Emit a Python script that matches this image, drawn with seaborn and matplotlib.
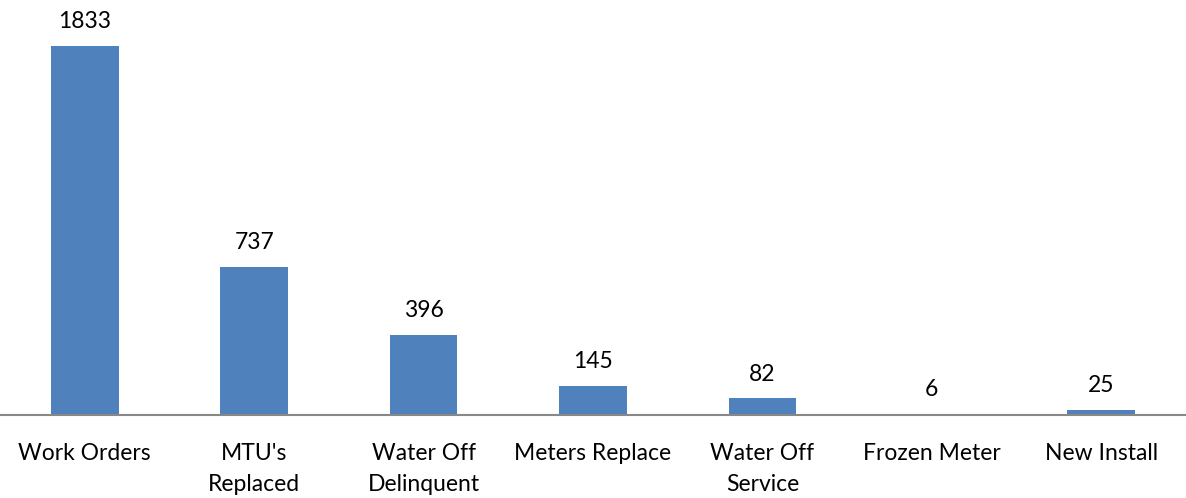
import matplotlib
matplotlib.use("Agg")
import matplotlib.pyplot as plt
import seaborn as sns
import pandas as pd

categories = ["Work Orders", "MTU's\nReplaced", "Water Off\nDelinquent", "Meters Replace",
              "Water Off\nService", "Frozen Meter", "New Install"]
counts = [1833, 737, 396, 145, 82, 6, 25]

df = pd.DataFrame({"category": categories, "count": counts})

sns.set_theme(style="white")
plt.rcParams["font.family"] = ["Lato", "DejaVu Sans"]

fig = plt.figure(figsize=(11.86, 4.98), dpi=100)
ax = fig.add_axes([0.0, 0.1667, 1.0, 0.808])

sns.barplot(data=df, x="category", y="count", color="#4F81BD", saturation=1,
            width=0.4, linewidth=0, ax=ax)

ax.set_ylim(0, 2000)
ax.set_xlim(-0.5, len(categories) - 0.5)
for c in ax.containers:
    ax.bar_label(c, labels=[str(v) for v in counts], padding=10, fontsize=16.5, color="black")

for s in ["top", "right", "left"]:
    ax.spines[s].set_visible(False)
ax.spines["bottom"].set_color("#888888")
ax.spines["bottom"].set_linewidth(1.5)
ax.set_yticks([])
ax.set_xlabel("")
ax.set_ylabel("")
ax.tick_params(axis="x", length=0, pad=20, labelsize=16.5, colors="black")
for t in ax.get_xticklabels():
    t.set_linespacing(1.6)
    t.set_verticalalignment("top")

fig.savefig("out.png", dpi=100, facecolor="white")
